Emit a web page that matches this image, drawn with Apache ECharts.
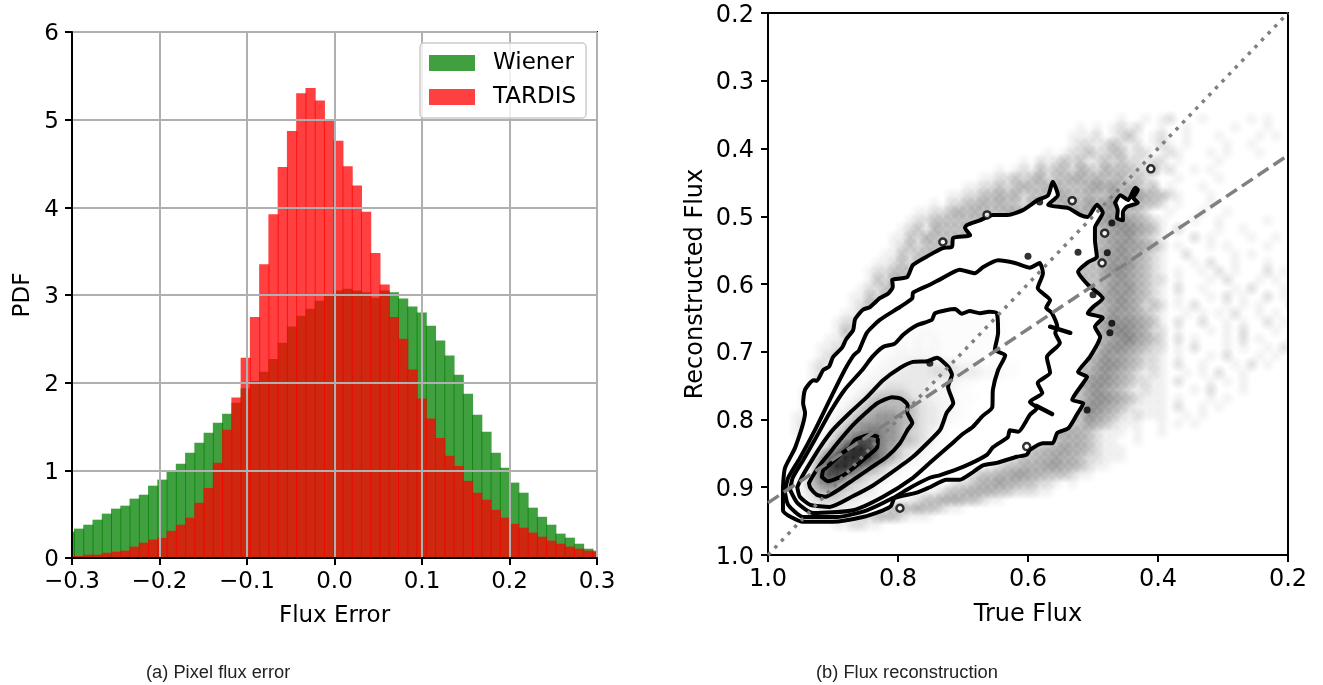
<!DOCTYPE html>
<html>
<head>
<meta charset="utf-8">
<style>html,body{margin:0;padding:0;background:#fff}#c{width:1323px;height:685px}</style>
<script src="https://cdn.jsdelivr.net/npm/echarts@6/dist/echarts.min.js"></script>
</head>
<body>
<div id="c"></div>
<script>
// Histogram bins
const binStart = -0.3083;
const binWidth = 0.01058;
const wienerPdf = [.30,.335,.38,.437,.506,.563,.597,.677,.722,.825,.894,.985,1.076,1.20,1.316,1.43,1.544,1.646,1.77,1.935,2.02,2.125,2.27,2.456,2.64,2.764,2.844,2.935,3.01,3.05,3.07,3.05,3.03,2.97,3.05,3.03,2.96,2.87,2.80,2.65,2.48,2.31,2.09,1.875,1.635,1.44,1.20,1.03,.86,.745,.574,.47,.38,.278,.232,.163,.106,.084];
const tardisPdf = [.02,.023,.038,.038,.06,.072,.084,.13,.175,.21,.23,.31,.38,.46,.63,.80,1.087,1.464,1.83,2.285,2.75,3.35,3.92,4.46,4.87,5.30,5.36,5.22,5.0,4.76,4.47,4.25,3.95,3.48,3.12,2.75,2.50,2.15,1.82,1.59,1.37,1.167,1.05,.88,.745,.665,.55,.46,.39,.346,.29,.243,.198,.163,.13,.106,.084,.07];

// Contours of the true / reconstructed flux density, [true, reconstructed]
const contour1 = [[.917,.885],[.915,.875],[.902,.864],[.885,.849],[.874,.842],[.866,.830],[.843,.823],[.831,.826],[.832,.841],[.848,.855],[.869,.872],[.889,.885],[.908,.891],[.917,.885]];
const contour2 = [[.937,.894],[.932,.885],[.920,.867],[.905,.849],[.889,.830],[.869,.808],[.848,.789],[.832,.776],[.809,.767],[.794,.770],[.785,.779],[.786,.789],[.778,.805],[.785,.815],[.797,.835],[.817,.855],[.843,.872],[.869,.889],[.892,.904],[.912,.914],[.925,.911],[.935,.901],[.937,.894]];
const contour3 = [[.955,.900],[.948,.885],[.935,.864],[.920,.841],[.900,.815],[.874,.790],[.848,.767],[.823,.742],[.797,.724],[.777,.715],[.755,.714],[.740,.709],[.723,.722],[.717,.734],[.723,.752],[.715,.776],[.725,.790],[.735,.815],[.755,.835],[.777,.855],[.808,.877],[.838,.897],[.869,.913],[.905,.929],[.935,.926],[.951,.914],[.955,.900]];
const contour4 = [[.966,.904],[.962,.886],[.946,.860],[.928,.830],[.905,.790],[.882,.756],[.855,.727],[.840,.708],[.823,.693],[.805,.688],[.792,.675],[.771,.661],[.748,.653],[.743,.643],[.712,.637],[.702,.644],[.690,.640],[.674,.643],[.660,.641],[.648,.643],[.646,.672],[.651,.697],[.635,.705],[.646,.727],[.654,.756],[.655,.782],[.670,.795],[.685,.811],[.700,.821],[.720,.838],[.751,.864],[.777,.886],[.823,.914],[.869,.934],[.931,.938],[.955,.923],[.966,.904]];
const contour5 = [[.974,.907],[.969,.886],[.951,.857],[.928,.816],[.905,.771],[.882,.727],[.868,.705],[.860,.698],[.848,.672],[.828,.653],[.797,.634],[.778,.621],[.777,.613],[.751,.601],[.731,.591],[.705,.579],[.682,.584],[.669,.575],[.646,.565],[.620,.569],[.597,.576],[.582,.569],[.577,.584],[.585,.606],[.566,.624],[.572,.635],[.563,.643],[.555,.663],[.558,.672],[.551,.687],[.571,.708],[.566,.731],[.585,.746],[.578,.761],[.597,.774],[.586,.783],[.597,.793],[.615,.818],[.628,.816],[.631,.826],[.654,.841],[.663,.852],[.700,.870],[.735,.882],[.751,.886],[.780,.900],[.808,.916],[.848,.934],[.894,.944],[.946,.944],[.969,.926],[.974,.907]];
const contourOuter = [[.977,.900],[.974,.872],[.958,.841],[.943,.790],[.946,.776],[.943,.756],[.930,.742],[.925,.743],[.915,.727],[.906,.722],[.900,.708],[.886,.694],[.880,.682],[.869,.668],[.866,.652],[.854,.638],[.843,.634],[.828,.621],[.815,.614],[.808,.604],[.809,.594],[.786,.590],[.777,.572],[.751,.557],[.731,.547],[.717,.545],[.715,.532],[.689,.528],[.697,.517],[.694,.513],[.674,.506],[.654,.498],[.631,.498],[.608,.491],[.585,.476],[.569,.469],[.562,.449],[.554,.469],[.569,.483],[.538,.488],[.520,.498],[.508,.501],[.494,.483],[.485,.495],[.497,.517],[.497,.535],[.494,.560],[.508,.568],[.523,.582],[.508,.601],[.485,.621],[.500,.634],[.508,.643],[.485,.650],[.497,.663],[.489,.678],[.505,.708],[.523,.730],[.509,.737],[.515,.746],[.532,.771],[.515,.776],[.525,.793],[.538,.813],[.555,.820],[.562,.835],[.577,.835],[.597,.845],[.602,.852],[.617,.855],[.648,.864],[.670,.868],[.685,.878],[.705,.889],[.725,.889],[.751,.900],[.771,.908],[.805,.916],[.811,.928],[.823,.934],[.854,.944],[.900,.951],[.946,.951],[.977,.934],[.977,.900]];
const contourIsland = [[.466,.480],[.458,.469],[.446,.476],[.435,.458],[.431,.461],[.438,.473],[.431,.480],[.448,.486],[.454,.494],[.454,.506],[.463,.503],[.462,.491],[.466,.480]];
const contourBarA = [[.566,.663],[.535,.672]];
const contourBarB = [[.587,.780],[.563,.792]];
const contourRings = [[.797,.931],[.602,.840],[.411,.430],[.482,.525],[.486,.569],[.731,.538],[.663,.498],[.532,.477]];
const contourBlobs = [[.523,.553],[.600,.559],[.478,.554],[.471,.510],[.582,.479],[.509,.786],[.471,.658],[.474,.672],[.500,.616],[.751,.717]];

// Reference lines
const identityLine = [[1.0,1.0],[.2,.2]];
const fitLine = [[1.0,.923],[.2,.41]];

// Cell grid for the point cloud: true flux from 1.0 downward, reconstructed from 0.35 downward
const cellStep = 0.0125;
const bandColumn = 39;
function cloudRow(start, lead, band) { // hidden filler under the mask runs up to the dense band
  return '.'.repeat(start) + lead + '3'.repeat(bandColumn - start - lead.length) + band;
}
const cloudRows = [
"...........................................1..1.12...1.....1.1",
"......................................1.1.1212..1..1.....1...1",
".....................................1112.1231.12..1...1....1.1",
".....................................122123212.121.1....1..1",
"..................................1.12232233122.121...1.1...1",
"...............................1.2123231232322122.1....1",
"............................1.12132332432433322312..1.1",
"..........................1122323423344343342321..1....1",
"........................112232343344333454534323.1...1",
"......................11223343423334433433544543321...1",
"....................1.223343433244334435456554332.1...1",
"..................11223434333443333333445554332..1...1..1",
cloudRow(17,"1223","3456654321...1..1.....1"),
cloudRow(16,"12314","3345665431.2....1..1"),
cloudRow(15,"11324","3345564321...2.1....1..1"),
cloudRow(15,"1232","3345655432.1...1.1....1"),
cloudRow(14,"1132","3355654321..2.....1.1"),
cloudRow(13,"11232","3346564321...1.2..1...1"),
cloudRow(12,"1223","3356654321.1..1.2.1...2.1"),
cloudRow(12,"1324","3345654322.1...1.2...1.1.1"),
cloudRow(11,"1223","3346564321.2..1...1.2...1.1"),
cloudRow(10,"11323","3355654321.1...1.2.1..2.1"),
cloudRow(10,"1233","3345654232.1.2...1.1.1...2.1"),
cloudRow(9,"1123","3346554321..1.1.1.2..1.1..1"),
cloudRow(8,"1223","3356665431.2..2..1.1..2.1"),
cloudRow(8,"1322","3356765422.1...1.1.2...1.1"),
cloudRow(7,"1122","3345675432.2.1...1.2.1...1."),
cloudRow(6,"11213","3356654322.1.2...1.1..1.2.1"),
cloudRow(6,"1223","3465543221.1...1.2...1.1"),
cloudRow(5,"12123","3566543221.2..1...1.2.1"),
cloudRow(5,"1213","4565432121..1.1.2..1"),
cloudRow(5,"1322","5665432211.2...1.1.1"),
cloudRow(4,"1122","5654321211...1.2...1"),
cloudRow(4,"1213","5665432111.1...1.1"),
cloudRow(4,"123","6654321111.2..1.1"),
cloudRow(3,"112","6543212111..1.1"),
cloudRow(3,"12","5432111..1.1.1"),
"...11.............................3344432111.1..1",
"...................................34443211..1",
"................................334454432111",
"..............................23344544322111",
"...........................123344455443211",
"........................1233445544333211",
"......................12234454433221.1",
"...................1123344443322211",
"................1123344433211",
".............12333433211",
"..........1223332111",
"........112211"
];
// Density field inside the contours (same grid, first row below)
const innerFirstRow = 23;
const innerRows = [
".......................111111",
"....................111111111",
".................112111111111",
"................1121211111111",
"..............112121211111111",
".............1122222211111111",
"............1122233333322211111",
"...........11222333344433322211",
"..........1122333333222211",
".........1123344433322211",
"........112345555433222111",
"........12345555554332211",
".......123455666554332211",
".......13456666655433211",
"......1245667766544321",
"......135678876655432",
".....1356899876543321",
"....135789998765432111",
"....136899876543211",
"...12478876544321",
"...135676544321",
"...124555443321",
"...12344433221",
"....123332211",
".....112211"
];

const cloudAlpha = [0,.05,.12,.22,.28,.34,.4,.46,.5,.55];
const innerAlpha = [0,.008,.025,.05,.09,.17,.27,.38,.55,.75];

function cellPoints(rows, firstRow) {
  const out = [];
  rows.forEach(function (row, r) {
    for (let c = 0; c < row.length; c++) {
      if (row[c] !== '.') out.push([1 - cellStep * (c + .5), .35 + cellStep * (firstRow + r + .5), +row[c]]);
    }
  });
  return out;
}
function blobRender(alphas, radius) {
  const cache = {};
  return function (params, api) {
    const p = api.coord([api.value(0), api.value(1)]);
    const lv = api.value(2);
    if (!cache[lv]) cache[lv] = new echarts.graphic.RadialGradient(.5, .5, .5, [
      {offset: 0, color: 'rgba(0,0,0,' + alphas[lv] + ')'},
      {offset: 1, color: 'rgba(0,0,0,0)'}]);
    return {type: 'circle', shape: {cx: p[0], cy: p[1], r: radius}, style: {fill: cache[lv]}};
  };
}
function histData(values) {
  return values.map(function (v, i) { return [binStart + i * binWidth, binStart + (i + 1) * binWidth, v]; });
}
function renderBar(params, api) {
  const a = api.coord([api.value(0), api.value(2)]);
  const b = api.coord([api.value(1), 0]);
  return {type: 'rect', shape: {x: a[0], y: a[1], width: b[0] - a[0] + 1, height: b[1] - a[1]}, style: {fill: api.visual('color')}};
}
function polyRender(paths) {
  return function (params, api) {
    return {type: 'group', children: paths.map(function (pts) {
      return {type: 'polygon', shape: {points: pts.map(function (q) { return api.coord(q); })}, style: {fill: '#fff'}};
    })};
  };
}
const FONT = 'DejaVu Sans';
function axisBase(size, margin) {
  return {
    axisLine: {show: true, onZero: false, lineStyle: {color: '#000', width: 2}},
    axisTick: {show: true, length: 7, lineStyle: {color: '#000', width: 2}},
    axisLabel: {fontFamily: FONT, fontSize: size, color: '#000', margin: margin},
    nameLocation: 'middle',
    nameTextStyle: {fontFamily: FONT, fontSize: size, color: '#000'}
  };
}
const grid1 = {left: 72, top: 32, width: 525, height: 526, show: true, borderColor: '#000', borderWidth: 2, backgroundColor: 'transparent'};
const grid2 = {left: 768, top: 13, width: 520, height: 542, show: true, borderColor: '#000', borderWidth: 2, backgroundColor: 'transparent'};
const gridLine = {show: true, lineStyle: {color: '#b0b0b0', width: 2, type: 'solid'}};

function contourSeries(data) {
  return {type: 'line', xAxisIndex: 1, yAxisIndex: 1, data: data, showSymbol: false, smooth: .2, z: 5, silent: true,
    lineStyle: {color: '#000', width: 4, join: 'round', cap: 'round'}, clip: true};
}

const option = {
  animation: false,
  backgroundColor: '#fff',
  grid: [grid1, grid2],
  xAxis: [
    Object.assign(axisBase(23, 13), {gridIndex: 0, type: 'value', min: -0.3, max: 0.3, interval: 0.1, z: 6, name: 'Flux Error', nameGap: 47, splitLine: gridLine}),
    Object.assign(axisBase(24, 13), {gridIndex: 1, type: 'value', min: 0.2, max: 1, interval: 0.2, inverse: true, z: 6, name: 'True Flux', nameGap: 48, splitLine: {show: false}})
  ],
  yAxis: [
    Object.assign(axisBase(23, 13), {gridIndex: 0, type: 'value', min: 0, max: 6, interval: 1, z: 6, name: 'PDF', nameGap: 37, splitLine: gridLine}),
    Object.assign(axisBase(24, 14), {gridIndex: 1, type: 'value', min: 0.2, max: 1, interval: 0.1, inverse: true, z: 6, name: 'Reconstructed Flux', nameGap: 60, splitLine: {show: false}})
  ],
  legend: {
    data: ['Wiener', 'TARDIS'], left: 420, top: 43, orient: 'vertical', selectedMode: false, z: 10,
    padding: [7, 10, 8, 9], itemWidth: 46, itemHeight: 16, itemGap: 8, icon: 'rect',
    backgroundColor: 'rgba(255,255,255,0.8)', borderColor: '#ccc', borderWidth: 1.5, borderRadius: 4,
    textStyle: {fontFamily: FONT, fontSize: 23, color: '#000', lineHeight: 22, padding: [4, 0, 0, 13]}
  },
  series: [
    {name: 'Wiener', type: 'custom', xAxisIndex: 0, yAxisIndex: 0, clip: true, z: 2, data: histData(wienerPdf), renderItem: renderBar, encode: {x: [0, 1], y: 2}, itemStyle: {color: 'rgba(0,128,0,0.75)'}},
    {name: 'TARDIS', type: 'custom', xAxisIndex: 0, yAxisIndex: 0, clip: true, z: 3, data: histData(tardisPdf), renderItem: renderBar, encode: {x: [0, 1], y: 2}, itemStyle: {color: 'rgba(255,0,0,0.75)'}},
    {type: 'custom', xAxisIndex: 1, yAxisIndex: 1, clip: true, z: 2, silent: true, data: cellPoints(cloudRows, 0), renderItem: blobRender(cloudAlpha, 9), encode: {x: 0, y: 1}},
    {type: 'custom', xAxisIndex: 1, yAxisIndex: 1, clip: true, z: 3, silent: true, data: [[.6, .6]], renderItem: polyRender([contourOuter, contourIsland]), encode: {x: 0, y: 1}},
    {type: 'custom', xAxisIndex: 1, yAxisIndex: 1, clip: true, z: 4, silent: true, data: cellPoints(innerRows, innerFirstRow), renderItem: blobRender(innerAlpha, 11), encode: {x: 0, y: 1}},
    contourSeries(contour1), contourSeries(contour2), contourSeries(contour3), contourSeries(contour4), contourSeries(contour5), contourSeries(contourOuter), contourSeries(contourIsland),
    Object.assign(contourSeries(contourBarA), {smooth: false, lineStyle: {color: '#000', width: 4.5, cap: 'round'}}),
    Object.assign(contourSeries(contourBarB), {smooth: false, lineStyle: {color: '#000', width: 4.5, cap: 'round'}}),
    {type: 'scatter', xAxisIndex: 1, yAxisIndex: 1, z: 5, silent: true, data: contourBlobs, symbolSize: 7, itemStyle: {color: '#000'}},
    {type: 'scatter', xAxisIndex: 1, yAxisIndex: 1, z: 5, silent: true, data: contourRings, symbolSize: 7, itemStyle: {color: '#fff', borderColor: '#000', borderWidth: 2.5}},
    {type: 'line', xAxisIndex: 1, yAxisIndex: 1, z: 7, silent: true, data: identityLine, showSymbol: false, lineStyle: {color: '#808080', width: 3.5, type: [3.5, 6]}},
    {type: 'line', xAxisIndex: 1, yAxisIndex: 1, z: 7, silent: true, data: fitLine, showSymbol: false, lineStyle: {color: '#808080', width: 3.5, type: [13, 6]}}
  ],
  graphic: [
    {type: 'text', left: 146, top: 664, silent: true, style: {text: '(a) Pixel flux error', font: '18.3px "Liberation Sans"', fill: '#222'}},
    {type: 'text', left: 816, top: 664, silent: true, style: {text: '(b) Flux reconstruction', font: '18.3px "Liberation Sans"', fill: '#222'}}
  ]
};
option.xAxis[0].axisLabel.formatter = function (v) { return v.toFixed(1).replace('-', '\u2212'); };
option.xAxis[1].axisLabel.formatter = function (v) { return v.toFixed(1); };
option.yAxis[0].axisLabel.formatter = function (v) { return '{a|' + v + '}'; };
option.yAxis[0].axisLabel.rich = {a: {fontFamily: FONT, fontSize: 23, color: '#000', padding: [5, 0, 0, 0]}};
option.yAxis[1].axisLabel.formatter = function (v) { return '{a|' + v.toFixed(1) + '}'; };
option.yAxis[1].axisLabel.rich = {a: {fontFamily: FONT, fontSize: 24, color: '#000', padding: [5, 0, 0, 0]}};

const chart = echarts.init(document.getElementById('c'), null, {renderer: 'canvas', width: 1323, height: 685});
chart.setOption(option);
</script>
</body>
</html>
